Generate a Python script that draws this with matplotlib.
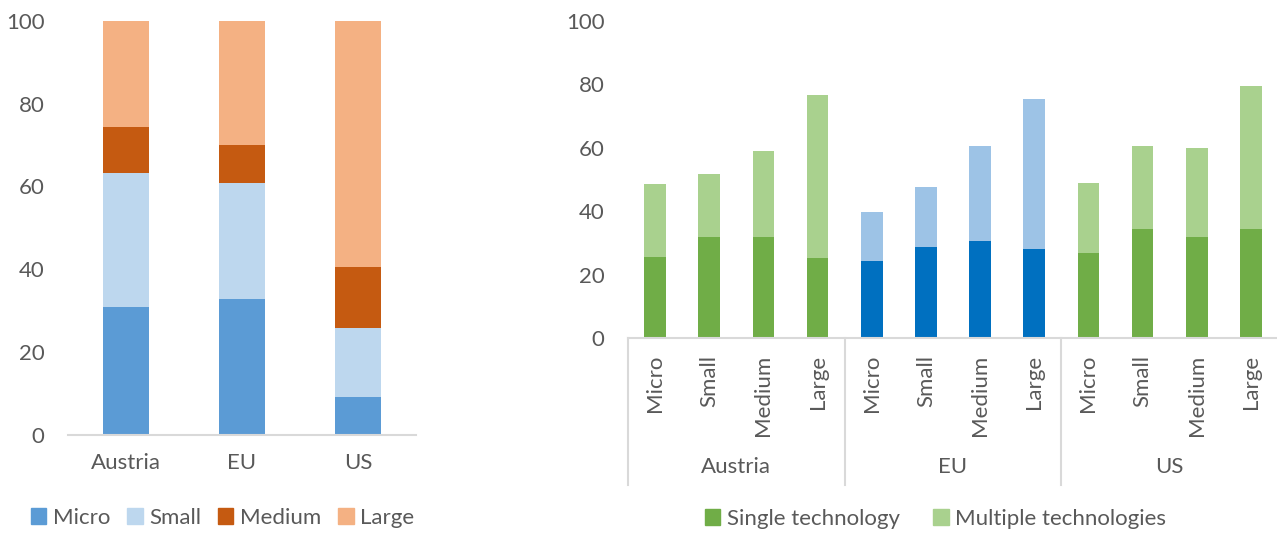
import matplotlib
matplotlib.use("Agg")
import matplotlib.pyplot as plt
import numpy as np
from matplotlib.patches import Patch
from matplotlib.lines import Line2D

plt.rcParams["font.family"] = ["Lato", "DejaVu Sans"]
plt.rcParams["font.size"] = 16

TXT = "#595959"
AXIS = "#d9d9d9"
FS = 16

# Left panel: share of firms by size class
regions = ["Austria", "EU", "US"]
micro = [30.9, 32.9, 9.2]
small = [32.4, 28.0, 16.6]
medium = [11.0, 9.1, 14.7]
large = [25.7, 30.0, 59.5]

# Right panel: adoption by size class, single vs multiple technologies
sizes = ["Micro", "Small", "Medium", "Large"]
single = [25.5, 31.9, 31.8, 25.2,
          24.4, 28.8, 30.5, 28.2,
          26.7, 34.3, 31.8, 34.4]
total = [48.4, 51.6, 58.8, 76.5,
         39.6, 47.5, 60.4, 75.3,
         48.7, 60.6, 59.9, 79.5]
multiple = [t - s for t, s in zip(total, single)]

fig = plt.figure(figsize=(12.77, 5.36), dpi=100)

# ---- left: stacked shares ----
ax1 = fig.add_axes([68 / 1277, 1 - 435 / 536, 348 / 1277, 414.3 / 536])
x = np.arange(len(regions))
w = 0.4
cols = {"Micro": "#5b9bd5", "Small": "#bdd7ee", "Medium": "#c55a11", "Large": "#f4b183"}
bottom = np.zeros(len(regions))
for name, vals in zip(cols, [micro, small, medium, large]):
    ax1.bar(x, vals, w, bottom=bottom, color=cols[name], label=name)
    bottom += np.array(vals)

ax1.set_xlim(-0.5, 2.5)
ax1.set_ylim(0, 100)
ax1.set_yticks(range(0, 101, 20))
ax1.set_xticks(x)
ax1.set_xticklabels(regions)
for s in ["top", "right", "left"]:
    ax1.spines[s].set_visible(False)
ax1.spines["bottom"].set_color(AXIS)
ax1.spines["bottom"].set_linewidth(1.5)
ax1.tick_params(axis="both", length=0, colors=TXT, labelsize=FS)
ax1.tick_params(axis="y", pad=17)
ax1.tick_params(axis="x", pad=13)

ax1.legend(handles=[Patch(color=c, label=n) for n, c in cols.items()],
           loc="center", bbox_to_anchor=(0.444, -0.2), ncol=4, frameon=False,
           handlelength=0.7, handleheight=0.7, handletextpad=0.3,
           columnspacing=0.75, labelcolor=TXT, fontsize=FS)

# ---- right: single vs multiple technologies ----
ax2 = fig.add_axes([628 / 1277, 1 - 338 / 536, 650 / 1277, 317.3 / 536])
xs = np.arange(len(single))
green_dark, green_light = "#70ad47", "#a9d18e"
blue_dark, blue_light = "#0070c0", "#9dc3e6"
c_single = [blue_dark if 4 <= i < 8 else green_dark for i in xs]
c_multi = [blue_light if 4 <= i < 8 else green_light for i in xs]
ax2.bar(xs, single, w, color=c_single)
ax2.bar(xs, multiple, w, bottom=single, color=c_multi)

ax2.set_xlim(-0.5, 11.5)
ax2.set_ylim(0, 100)
ax2.set_yticks(range(0, 101, 20))
ax2.set_xticks(xs)
ax2.set_xticklabels(sizes * 3, rotation=90, va="top")
for s in ["top", "right", "left"]:
    ax2.spines[s].set_visible(False)
ax2.spines["bottom"].set_color(AXIS)
ax2.spines["bottom"].set_linewidth(1.5)
ax2.tick_params(axis="both", length=0, colors=TXT, labelsize=FS)
ax2.tick_params(axis="y", pad=17)
ax2.tick_params(axis="x", pad=12)

# group separators and group names under the size labels
tr = ax2.get_xaxis_transform()
depth = -(485 - 338) / 317.3
for xb in [-0.5, 3.5, 7.5]:
    ax2.add_line(Line2D([xb, xb], [0, depth], transform=tr, color=AXIS,
                        lw=1.5, clip_on=False))
for i, r in enumerate(regions):
    ax2.text(4 * i + 1.5, -(467 - 338) / 317.3, r, transform=tr,
             ha="center", va="center", color=TXT, fontsize=FS)

ax2.legend(handles=[Patch(color=green_dark, label="Single technology"),
                    Patch(color=green_light, label="Multiple technologies")],
           loc="center", bbox_to_anchor=(0.473, -0.57), ncol=2, frameon=False,
           handlelength=0.7, handleheight=0.7, handletextpad=0.3,
           columnspacing=1.5, labelcolor=TXT, fontsize=FS)

fig.savefig("out.png", dpi=100)
